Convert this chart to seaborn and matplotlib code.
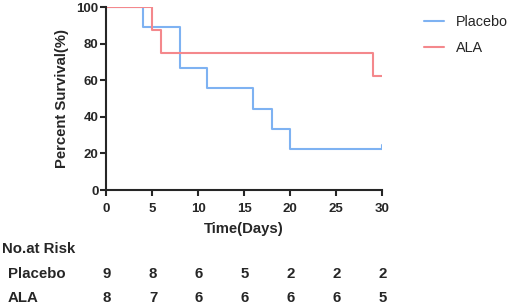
import pandas as pd
import matplotlib.pyplot as plt
import seaborn as sns

# Kaplan-Meier step values
placebo_time = [0, 4, 8, 11, 16, 18, 20, 30]
placebo_surv = [100, 88.9, 66.7, 55.6, 44.4, 33.3, 22.2, 22.2]
ala_time = [0, 5, 6, 29, 30]
ala_surv = [100, 87.5, 75, 62.5, 62.5]

groups = ['Placebo', 'ALA']
colors = ['#7EB2F2', '#F4888C']

risk_times = [0, 5, 10, 15, 20, 25, 30]
risk_placebo = [9, 8, 6, 5, 2, 2, 2]
risk_ala = [8, 7, 6, 6, 6, 6, 5]

df = pd.concat([
    pd.DataFrame({'time': placebo_time, 'surv': placebo_surv, 'group': 'Placebo'}),
    pd.DataFrame({'time': ala_time, 'surv': ala_surv, 'group': 'ALA'}),
])

sns.set_style('ticks')
plt.rcParams['font.family'] = ['Liberation Sans', 'DejaVu Sans']

fig = plt.figure(figsize=(5.1, 3.06), dpi=100)
ax = fig.add_axes([0.208, 0.379, 0.541, 0.598])

sns.lineplot(data=df, x='time', y='surv', hue='group', hue_order=groups,
             palette=colors, drawstyle='steps-post', estimator=None,
             linewidth=1.5, ax=ax)
# censor tick on placebo at the end
ax.plot([30, 30], [22.2, 24.5], color=colors[0], linewidth=1.5)

ax.set_xlim(0, 30)
ax.set_ylim(0, 100)
ax.set_xticks(risk_times)
ax.set_yticks([0, 20, 40, 60, 80, 100])
ax.tick_params(width=1.5, length=4.5, labelsize=9.5)
ax.tick_params(axis='x', pad=5)
ax.tick_params(axis='y', pad=1)
for lab in ax.get_xticklabels() + ax.get_yticklabels():
    lab.set_fontweight('bold')
for s in ['left', 'bottom']:
    ax.spines[s].set_linewidth(1.5)
sns.despine(ax=ax)

ax.set_xlabel('Time(Days)', fontsize=10.7, fontweight='bold', labelpad=5)
ax.set_ylabel('Percent Survival(%)', fontsize=10.7, fontweight='bold', labelpad=5)

leg = ax.legend(title=None, frameon=False, fontsize=10.4, loc='upper left',
                bbox_to_anchor=(1.115, 1.01), handlelength=1.4, handletextpad=0.8,
                labelspacing=0.8, borderaxespad=0.3)

# number at risk table
fig.text(2 / 510, 1 - 249 / 306, 'No.at Risk', fontsize=10.8, fontweight='bold', va='center')
for label, vals, y in [('Placebo', risk_placebo, 274.5), ('ALA', risk_ala, 298)]:
    fig.text(8 / 510, 1 - y / 306, label, fontsize=10.8, fontweight='bold', va='center')
    for t, v in zip(risk_times, vals):
        xf = ax.transAxes.transform((t / 30, 0))[0] / fig.bbox.width
        fig.text(xf + 1 / 510, 1 - y / 306, str(v), fontsize=10.8, fontweight='bold',
                 va='center', ha='center')

fig.savefig('out.png', dpi=100)
